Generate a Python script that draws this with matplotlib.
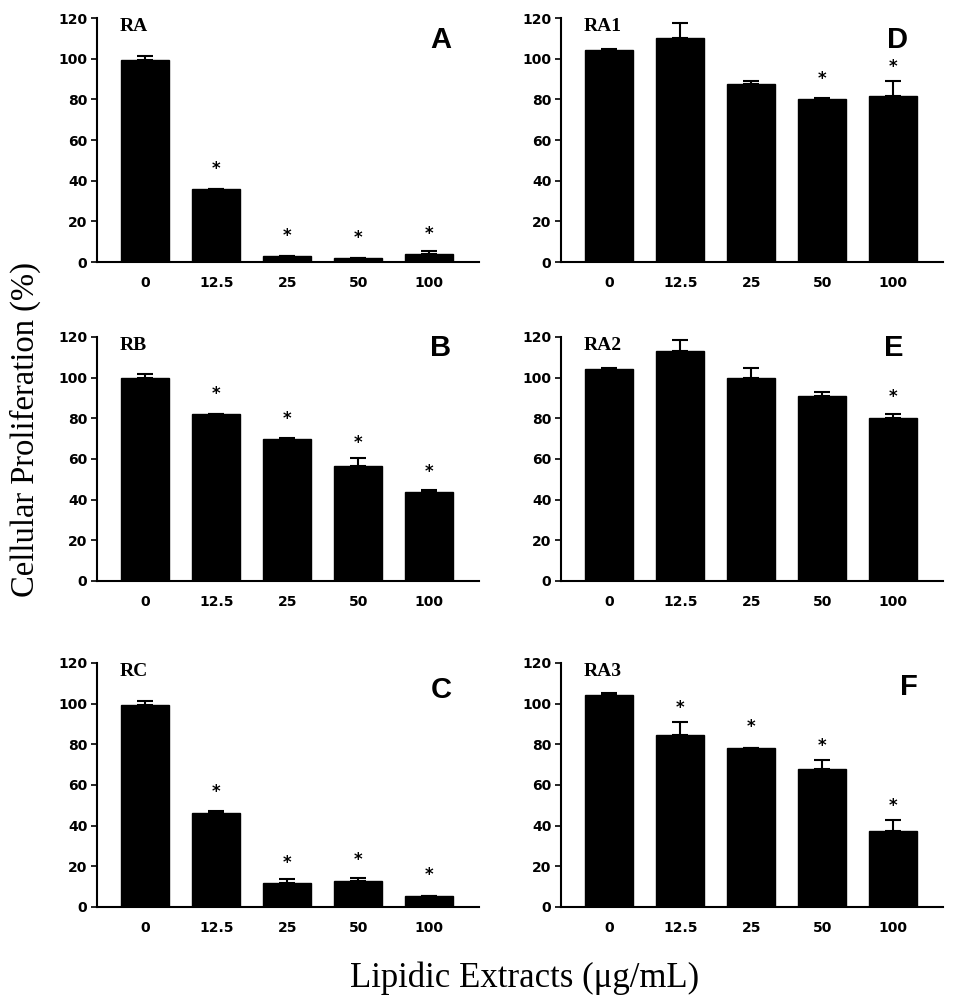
import numpy as np
import matplotlib
matplotlib.use("Agg")
import matplotlib.pyplot as plt

categories = ["0", "12.5", "25", "50", "100"]

panel_letters = ["A", "B", "C", "D", "E", "F"]
panel_names = ["RA", "RB", "RC", "RA1", "RA2", "RA3"]

vals_A = [99.5, 35.8, 3.0, 2.0, 3.8]
errs_A = [2.0, 0.0, 0.0, 0.0, 1.8]
sig_A = [False, True, True, True, True]

vals_B = [100.0, 82.0, 69.7, 56.4, 43.8]
errs_B = [1.8, 0.0, 0.8, 4.3, 0.8]
sig_B = [False, True, True, True, True]

vals_C = [99.4, 46.4, 11.6, 12.9, 5.5]
errs_C = [1.8, 0.8, 2.1, 1.6, 0.0]
sig_C = [False, True, True, True, True]

vals_D = [104.2, 110.3, 87.4, 80.2, 81.8]
errs_D = [0.6, 7.0, 1.6, 0.6, 7.2]
sig_D = [False, False, False, True, True]

vals_E = [104.2, 113.3, 99.8, 91.0, 80.3]
errs_E = [0.8, 5.2, 5.1, 2.0, 1.8]
sig_E = [False, False, False, False, True]

vals_F = [104.1, 84.8, 78.4, 67.7, 37.4]
errs_F = [1.0, 6.0, 0.0, 4.5, 5.2]
sig_F = [False, True, True, True, True]

yticks = [0, 20, 40, 60, 80, 100, 120]

ylabel = "Cellular Proliferation (%)"
xlabel = "Lipidic Extracts (\u03bcg/mL)"

tick_font = ["DejaVu Sans"]
serif_font = ["Liberation Serif", "DejaVu Serif"]

fig = plt.figure(figsize=(9.55, 10), dpi=100)

left_cols = [97 / 955, 561 / 955]
width = 382 / 955
bottoms = [1 - 262 / 1000, 1 - 581 / 1000, 1 - 907 / 1000]
height = 244 / 1000

data = [
    (vals_A, errs_A, sig_A), (vals_B, errs_B, sig_B), (vals_C, errs_C, sig_C),
    (vals_D, errs_D, sig_D), (vals_E, errs_E, sig_E), (vals_F, errs_F, sig_F),
]
letter_pos = [(0.90, 0.91), (0.90, 0.955), (0.90, 0.89),
              (0.88, 0.91), (0.87, 0.955), (0.91, 0.90)]

for i, (vals, errs, sig) in enumerate(data):
    col = i // 3
    row = i % 3
    ax = fig.add_axes([left_cols[col], bottoms[row], width, height])
    x = np.arange(len(categories))
    ax.bar(x, vals, width=0.68, color="black", edgecolor="black", zorder=2)
    lower = np.zeros(len(vals))
    ax.errorbar(x, vals, yerr=[lower, errs], fmt="none", ecolor="black",
                elinewidth=1.5, capsize=6, capthick=1.5, zorder=1)
    for xi, v, e, s in zip(x, vals, errs, sig):
        if s:
            ys = max(v + 10, v + e + 7)
            ax.text(xi, ys, "*", ha="center", va="center", fontsize=12,
                    fontweight="bold", family=tick_font)
    ax.set_xlim(-0.68, 4.7)
    ax.set_ylim(0, 120)
    ax.set_yticks(yticks)
    ax.set_yticklabels([str(t) for t in yticks], fontsize=10,
                       fontweight="bold", family=tick_font)
    ax.set_xticks(x)
    ax.set_xticklabels(categories, fontsize=10, fontweight="bold",
                       family=tick_font)
    ax.tick_params(axis="x", length=0, pad=10)
    ax.tick_params(axis="y", length=4, width=1.2, direction="out", pad=3)
    for sp in ["top", "right"]:
        ax.spines[sp].set_visible(False)
    for sp in ["left", "bottom"]:
        ax.spines[sp].set_linewidth(1.5)
    ax.text(0.11 if col == 1 else 0.095, 0.965, panel_names[i],
            transform=ax.transAxes, ha="center", va="center",
            fontsize=14, fontweight="bold", family=serif_font)
    lx, ly = letter_pos[i]
    ax.text(lx, ly, panel_letters[i], transform=ax.transAxes,
            ha="center", va="center", fontsize=21, fontweight="bold",
            family=["Liberation Sans", "DejaVu Sans"])

fig.text(25 / 955, 1 - 430 / 1000, ylabel, rotation=90, ha="center",
         va="center", fontsize=23.5, family=serif_font)
fig.text(525 / 955, 1 - 978 / 1000, xlabel, ha="center", va="center",
         fontsize=25, family=serif_font)

fig.savefig("out.png", dpi=100, facecolor="white")
